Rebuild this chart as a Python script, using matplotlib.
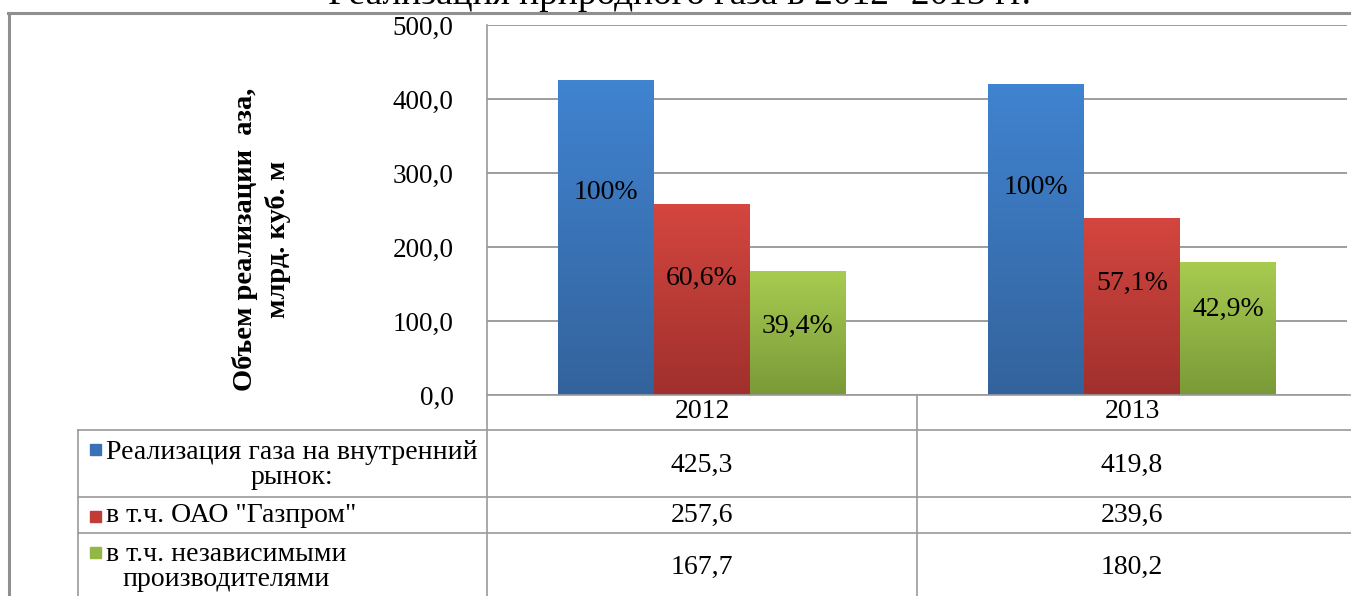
import numpy as np
import matplotlib.pyplot as plt
from matplotlib.lines import Line2D
from matplotlib.colors import LinearSegmentedColormap

plt.rcParams['font.family'] = ['Liberation Serif', 'DejaVu Serif']

years = ['2012', '2013']
series_names = ['Реализация газа на внутренний\nрынок:',
                'в т.ч. ОАО "Газпром"',
                'в т.ч. независимыми\nпроизводителями']
total = [425.3, 419.8]
gazprom = [257.6, 239.6]
independent = [167.7, 180.2]
value_labels = [['425,3', '419,8'], ['257,6', '239,6'], ['167,7', '180,2']]
pct_labels = [['100%', '100%'], ['60,6%', '57,1%'], ['39,4%', '42,9%']]
yticks = [0, 100, 200, 300, 400, 500]

# где стоят подписи процентов (в единицах оси y)
pct_pos = [[274, 280], [158, 151], [93, 115]]

# цвета: верх / низ градиента
grads = [('#4083D0', '#33639C'), ('#D4463F', '#A0302D'), ('#A8CB50', '#7A9A38')]
solid = ['#3A70B5', '#BF3C38', '#93B645']

W, H = 1351, 596
fig = plt.figure(figsize=(W / 100, H / 100), dpi=100)


def fx(px):
    return px / W


def fy(py):
    return 1 - py / H


ax = fig.add_axes([fx(487), fy(395), fx(1347) - fx(487), fy(25) - fy(395)])
ax.set_xlim(-0.5, 1.5)
ax.set_ylim(0, 500)
ax.set_yticks(yticks)
ax.set_yticklabels(['{:.1f}'.format(v).replace('.', ',') for v in yticks], fontsize=19.5)
ax.tick_params(axis='y', length=0, pad=24)
ax.set_xticks([])
for s in ['top', 'right', 'bottom', 'left']:
    ax.spines[s].set_visible(False)
ax.yaxis.grid(True, color='#8c8c8c', linewidth=1.2)
ax.set_axisbelow(True)

x = np.arange(len(years))
w = 0.223
data = [total, gazprom, independent]
for i, vals in enumerate(data):
    bars = ax.bar(x + (i - 1) * w, vals, w, color=solid[i], zorder=2)
    cmap = LinearSegmentedColormap.from_list('g%d' % i, [grads[i][1], grads[i][0]])
    for b in bars:
        bx, by = b.get_x(), b.get_y()
        bw, bh = b.get_width(), b.get_height()
        im = ax.imshow(np.linspace(0, 1, 100).reshape(-1, 1), cmap=cmap, origin='lower',
                       extent=[bx, bx + bw, by, by + bh], aspect='auto', zorder=3)
        im.set_clip_path(b)
    for j in range(len(years)):
        ax.text(x[j] + (i - 1) * w, pct_pos[i][j], pct_labels[i][j], ha='center', va='center',
                fontsize=20, color='black', zorder=5)
ax.set_xlim(-0.5, 1.5)
ax.set_ylim(0, 500)

ax.set_ylabel('Объем реализации  аза,\nмлрд. куб. м', fontsize=20.5, fontweight='bold',
              labelpad=0, linespacing=1.35)
ax.yaxis.set_label_coords((fx(291) - fx(487)) / (fx(1347) - fx(487)), 0.42)

line_c = '#9a9a9a'


def hline(y, x0, x1, c=line_c, lw=1.2):
    fig.add_artist(Line2D([fx(x0), fx(x1)], [fy(y), fy(y)], color=c, lw=lw))


def vline(xp, y0, y1, c=line_c, lw=1.2):
    fig.add_artist(Line2D([fx(xp), fx(xp)], [fy(y0), fy(y1)], color=c, lw=lw))


# внешняя рамка
hline(13, 8, W, c='#8f8f8f', lw=2.2)
vline(9, 13, H, c='#8f8f8f', lw=2.2)

# таблица
hline(395, 487, W)
hline(430, 78, W)
hline(497, 78, W)
hline(533, 78, W)
vline(487, 25, H)
vline(917, 395, H)
vline(78, 430, H)

col_cx = [702, 1132]
for j, yr in enumerate(years):
    fig.text(fx(col_cx[j]), fy(412), yr, ha='center', va='center', fontsize=20)

row_cy = [465, 515, 567]
for i, name in enumerate(series_names):
    top = [430, 497, 533][i]
    fig.patches.append(plt.Rectangle((fx(90), fy(top + 19) - 5.5 / H), 11 / W, 11 / H,
                                     transform=fig.transFigure, color=solid[i], figure=fig))
    fig.text(fx(106), fy(row_cy[i]), name, ha='left', va='center', multialignment='center',
             fontsize=20, linespacing=1.0)
    for j in range(len(years)):
        fig.text(fx(col_cx[j]), fy(row_cy[i]), value_labels[i][j], ha='center', va='center',
                 fontsize=20)

fig.text(fx(680), fy(4), 'Реализация природного газа в 2012- 2013 гг.', ha='center',
         va='baseline', fontsize=27)

fig.savefig('out.png', dpi=100)
